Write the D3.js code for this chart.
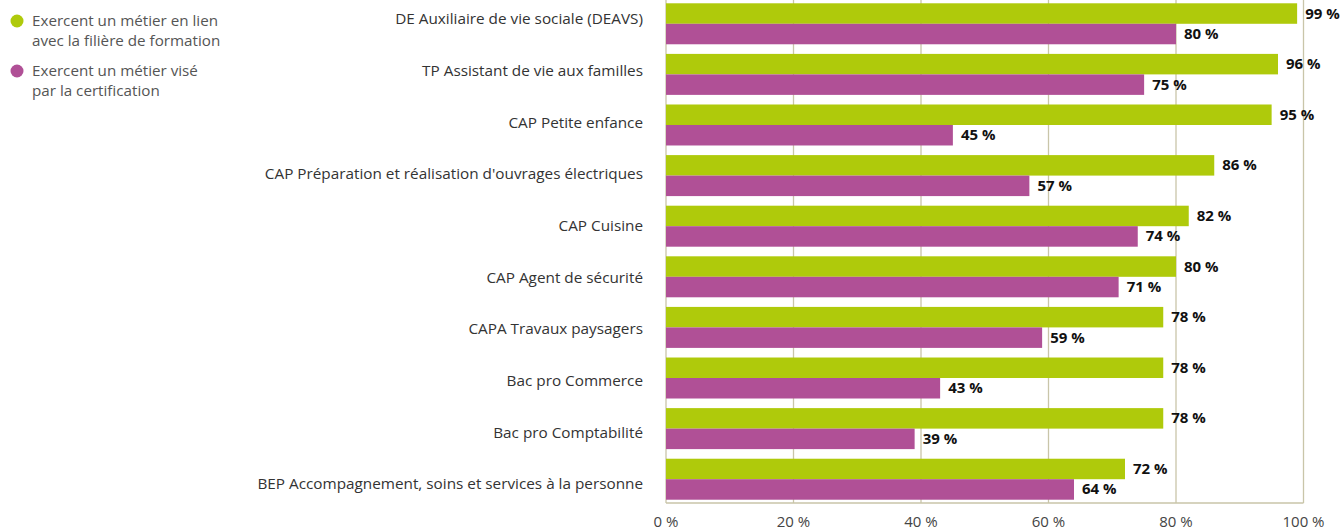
<!DOCTYPE html>
<head>
    <meta charset="utf-8">
    <script src="https://d3js.org/d3.v7.min.js"></script>
    <style>
        body { margin: 0; background: #fff; }
        svg { font-family: "Open Sans", sans-serif; }
    </style>
</head>
<body>
    <svg></svg>
    <script>
        // chart values
        var categories = ["DE Auxiliaire de vie sociale (DEAVS)", "TP Assistant de vie aux familles", "CAP Petite enfance",
                          "CAP Préparation et réalisation d'ouvrages électriques", "CAP Cuisine", "CAP Agent de sécurité",
                          "CAPA Travaux paysagers", "Bac pro Commerce", "Bac pro Comptabilité",
                          "BEP Accompagnement, soins et services à la personne"];
        var lienValues = [99, 96, 95, 86, 82, 80, 78, 78, 78, 72];
        var viseValues = [80, 75, 45, 57, 74, 71, 59, 43, 39, 64];
        var seriesNames = [["Exercent un métier en lien", "avec la filière de formation"],
                           ["Exercent un métier visé", "par la certification"]];
        var xTicks = [0, 20, 40, 60, 80, 100];

        var colors = ["#afca0b", "#b05096"];
        var width = 1341, height = 531;
        var left = 666, right = 1303.5, bottom = 503;

        var svg = d3.select("svg")
            .attr("width", width)
            .attr("height", height);

        var x = d3.scaleLinear().domain([0, 100]).range([left, right]);
        var y = d3.scaleBand().domain(categories).range([0, bottom])
            .paddingInner(0.19).paddingOuter(0.065);
        var sub = d3.scaleBand().domain([0, 1]).range([0, y.bandwidth()]);
        // labels on the left sit on a slightly wider spacing than the bars
        var yLabel = d3.scalePoint().domain(categories).range([19, 484]);

        // grid lines
        svg.append("g").selectAll("line")
            .data(xTicks)
            .join("line")
            .attr("x1", d => x(d)).attr("x2", d => x(d))
            .attr("y1", 0).attr("y2", bottom)
            .attr("stroke", "#c9c5a9").attr("stroke-width", 1.3);

        svg.append("line")
            .attr("x1", left).attr("x2", right)
            .attr("y1", bottom).attr("y2", bottom)
            .attr("stroke", "#c9c5a9").attr("stroke-width", 1.3);

        // x axis labels
        svg.append("g").selectAll("text")
            .data(xTicks)
            .join("text")
            .attr("x", d => x(d))
            .attr("y", 527)
            .attr("text-anchor", "middle")
            .attr("font-size", 15)
            .attr("fill", "#444")
            .text(d => d + " %");

        // bars
        var rows = categories.map(function (c, i) {
            return { cat: c, vals: [lienValues[i], viseValues[i]] };
        });

        var groups = svg.append("g").selectAll("g")
            .data(rows)
            .join("g")
            .attr("transform", d => "translate(0," + y(d.cat) + ")");

        groups.selectAll("rect")
            .data(d => d.vals.map((v, k) => ({ v: v, k: k })))
            .join("rect")
            .attr("x", x(0))
            .attr("y", d => sub(d.k))
            .attr("width", d => x(d.v) - x(0))
            .attr("height", sub.bandwidth())
            .attr("fill", d => colors[d.k]);

        groups.selectAll("text.val")
            .data(d => d.vals.map((v, k) => ({ v: v, k: k })))
            .join("text")
            .attr("class", "val")
            .attr("x", d => x(d.v) + 8)
            .attr("y", d => sub(d.k) + sub.bandwidth() / 2 + 5)
            .attr("font-size", 15)
            .attr("font-weight", "bold")
            .attr("fill", "#111")
            .text(d => d.v + " %");

        // category labels
        svg.append("g").selectAll("text")
            .data(categories)
            .join("text")
            .attr("x", 643)
            .attr("y", d => yLabel(d))
            .attr("dy", "0.35em")
            .attr("text-anchor", "end")
            .attr("font-size", 15.3)
            .attr("fill", "#333")
            .text(d => d);

        // legend
        var legend = svg.append("g").selectAll("g")
            .data(seriesNames)
            .join("g")
            .attr("transform", (d, i) => "translate(0," + (i * 50) + ")");

        legend.append("circle")
            .attr("cx", 17).attr("cy", 21).attr("r", 6.5)
            .attr("fill", (d, i) => colors[i]);

        legend.append("text")
            .attr("x", 32)
            .attr("font-size", 15.2)
            .attr("fill", "#555")
            .selectAll("tspan")
            .data(d => d)
            .join("tspan")
            .attr("x", 32)
            .attr("y", (d, j) => 26 + j * 20)
            .text(d => d);
    </script>
</body>
